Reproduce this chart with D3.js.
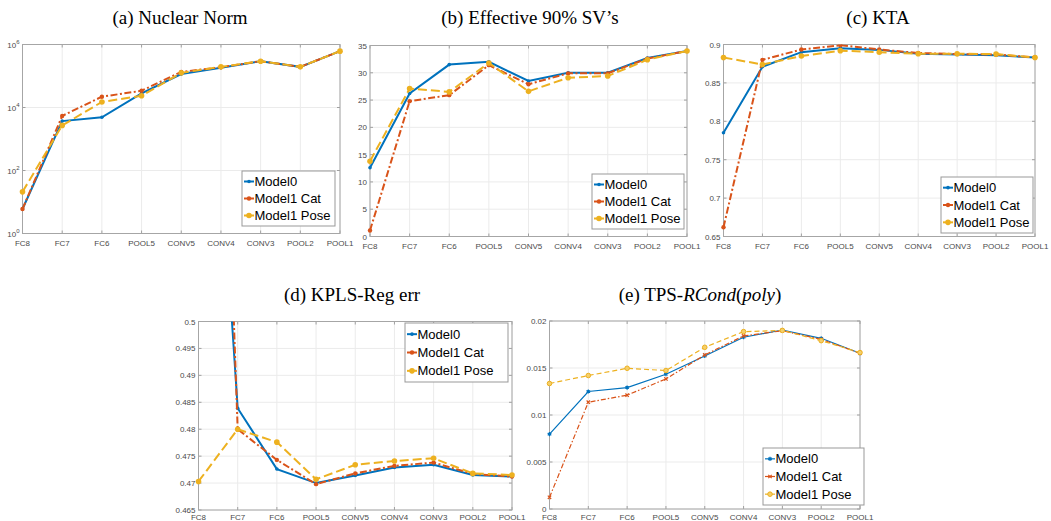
<!DOCTYPE html>
<html>
<head>
  <meta charset="utf-8">
  <script src="https://d3js.org/d3.v7.min.js"></script>
  <style>
    body { margin: 0; background: #fff; }
    .tick-label { font-family: "Liberation Sans", Arial, sans-serif; font-size: 8px; fill: #4a4a4a; }
    .title { font-family: "Liberation Serif", "Times New Roman", serif; font-size: 19px; fill: #000; }
    .legend-text { font-family: "Liberation Sans", Arial, sans-serif; font-size: 13px; fill: #000; }
  </style>
</head>
<body>
<script type="text/javascript">
  "use strict";

  // layer names along the x axis
  var categories = ["FC8", "FC7", "FC6", "POOL5", "CONV5", "CONV4", "CONV3", "POOL2", "POOL1"];
  var seriesNames = ["Model0", "Model1 Cat", "Model1 Pose"];

  // (a) Nuclear Norm (log scale)
  var nuclearModel0 = [6, 3700, 4900, 28000, 115000, 182000, 295000, 195000, 615000];
  var nuclearCat    = [6, 5400, 22000, 34000, 135000, 190000, 295000, 195000, 615000];
  var nuclearPose   = [21, 2700, 15000, 23500, 126000, 195000, 295000, 195000, 615000];
  var nuclearTicks  = [1, 100, 10000, 1000000];

  // (b) Effective 90% SV's
  var effModel0 = [12.6, 26.2, 31.5, 32.0, 28.5, 30.0, 30.0, 32.7, 34.0];
  var effCat    = [1.1, 24.8, 25.9, 31.4, 27.9, 29.9, 29.9, 32.6, 34.0];
  var effPose   = [13.8, 27.1, 26.5, 31.8, 26.6, 29.1, 29.4, 32.4, 34.0];
  var effTicks  = [0, 5, 10, 15, 20, 25, 30, 35];

  // (c) KTA
  var ktaModel0 = [0.785, 0.871, 0.890, 0.895, 0.893, 0.888, 0.887, 0.886, 0.883];
  var ktaCat    = [0.662, 0.880, 0.8935, 0.899, 0.8935, 0.889, 0.8875, 0.887, 0.883];
  var ktaPose   = [0.883, 0.874, 0.885, 0.892, 0.890, 0.888, 0.888, 0.8875, 0.883];
  var ktaTicks  = [0.65, 0.7, 0.75, 0.8, 0.85, 0.9];

  // (d) KPLS-Reg err (FC8 of first two series is off the top)
  var kplsModel0 = [0.594, 0.4839, 0.4726, 0.4700, 0.4714, 0.4729, 0.4734, 0.4715, 0.4712];
  var kplsCat    = [0.685, 0.4800, 0.4743, 0.4698, 0.4718, 0.4732, 0.4738, 0.4717, 0.4712];
  var kplsPose   = [0.4703, 0.4800, 0.4776, 0.4707, 0.4734, 0.4741, 0.4746, 0.4718, 0.4715];
  var kplsTicks  = [0.465, 0.47, 0.475, 0.48, 0.485, 0.49, 0.495, 0.5];

  // (e) TPS-RCond(poly)
  var tpsModel0 = [0.00796, 0.0125, 0.01292, 0.01434, 0.01628, 0.01827, 0.01904, 0.01816, 0.01657];
  var tpsCat    = [0.00124, 0.01136, 0.01211, 0.01384, 0.01639, 0.01841, 0.01897, 0.01805, 0.01657];
  var tpsPose   = [0.01335, 0.0142, 0.01497, 0.01473, 0.0172, 0.01887, 0.019, 0.01791, 0.01664];
  var tpsTicks  = [0, 0.005, 0.01, 0.015, 0.02];

  var colors = ["#0072BD", "#D95319", "#EDB120"];

  var panels = [
    { id: "a", title: [["(a) Nuclear Norm", false]], series: [nuclearModel0, nuclearCat, nuclearPose],
      log: true, domain: [1, 1000000], ticks: nuclearTicks, thin: false,
      box: { l: 22.5, r: 340, t: 44.5, b: 233.5 }, titleX: 180, titleY: 24, xlab: 12,
      legend: { x: 242, y: 171, w: 93, h: 55 } },
    { id: "b", title: [["(b) Effective 90% SV\u2019s", false]], series: [effModel0, effCat, effPose],
      log: false, domain: [0, 35], ticks: effTicks, thin: false,
      box: { l: 370, r: 687, t: 45.5, b: 236.5 }, titleX: 530, titleY: 24, xlab: 12,
      legend: { x: 592, y: 174, w: 92, h: 55 } },
    { id: "c", title: [["(c) KTA", false]], series: [ktaModel0, ktaCat, ktaPose],
      log: false, domain: [0.65, 0.9], ticks: ktaTicks, thin: false,
      box: { l: 723.5, r: 1035, t: 44.5, b: 236.5 }, titleX: 878, titleY: 24, xlab: 12,
      legend: { x: 941, y: 177, w: 92, h: 56 } },
    { id: "d", title: [["(d) KPLS-Reg err", false]], series: [kplsModel0, kplsCat, kplsPose],
      log: false, domain: [0.465, 0.5], ticks: kplsTicks, thin: false,
      box: { l: 198.5, r: 512, t: 321.5, b: 510 }, titleX: 352, titleY: 301, xlab: 10,
      legend: { x: 405, y: 323, w: 103, h: 59 } },
    { id: "e", title: [["(e) TPS-", false], ["RCond", true], ["(", false], ["poly", true], [")", false]],
      series: [tpsModel0, tpsCat, tpsPose],
      log: false, domain: [0, 0.02], ticks: tpsTicks, thin: true,
      box: { l: 549.5, r: 860, t: 321, b: 509 }, titleX: 700, titleY: 301, xlab: 10.5,
      legend: { x: 763, y: 448, w: 101, h: 57 } }
  ];

  var svg = d3.select("body")
    .append("svg")
      .attr("width", 1051)
      .attr("height", 521);

  function dashFor(i, thin) {
    if (i === 1) return thin ? "5,2,1.5,2" : "7,2.5,2,2.5";
    if (i === 2) return thin ? "5,3" : "9,4";
    return null;
  }

  function drawMarker(g, i, thin, x, y) {
    if (!thin) {
      g.append("circle")
        .attr("cx", x).attr("cy", y)
        .attr("r", [1.8, 2.2, 2.8][i])
        .attr("fill", colors[i]);
    } else if (i === 2) {
      g.append("circle")
        .attr("cx", x).attr("cy", y).attr("r", 2.3)
        .attr("fill", "#f5cf6a").attr("stroke", colors[i]).attr("stroke-width", 1);
    } else {
      g.append("path")
        .attr("transform", "translate(" + x + "," + y + ")")
        .attr("d", d3.symbol().type(i === 0 ? d3.symbolAsterisk : d3.symbolTimes).size(i === 0 ? 12 : 9)())
        .attr("fill", "none").attr("stroke", colors[i]).attr("stroke-width", 1.2);
    }
  }

  panels.forEach(function(p) {
    var box = p.box;
    var g = svg.append("g").attr("class", "panel-" + p.id);

    var x = d3.scalePoint().domain(categories).range([box.l, box.r]).padding(0);
    var y = (p.log ? d3.scaleLog() : d3.scaleLinear()).domain(p.domain).range([box.b, box.t]);

    // grid
    g.selectAll(".vgrid").data(categories).enter().append("line")
      .attr("x1", function(d) { return x(d); }).attr("x2", function(d) { return x(d); })
      .attr("y1", box.t).attr("y2", box.b)
      .attr("stroke", "#ebebeb").attr("stroke-width", 1);
    g.selectAll(".hgrid").data(p.ticks).enter().append("line")
      .attr("x1", box.l).attr("x2", box.r)
      .attr("y1", function(d) { return y(d); }).attr("y2", function(d) { return y(d); })
      .attr("stroke", "#ebebeb").attr("stroke-width", 1);

    // tick marks (inside, both sides)
    var tl = 3;
    categories.forEach(function(c) {
      g.append("line").attr("x1", x(c)).attr("x2", x(c)).attr("y1", box.b).attr("y2", box.b - tl)
        .attr("stroke", "#a0a0a0");
      g.append("line").attr("x1", x(c)).attr("x2", x(c)).attr("y1", box.t).attr("y2", box.t + tl)
        .attr("stroke", "#a0a0a0");
    });
    p.ticks.forEach(function(t) {
      g.append("line").attr("x1", box.l).attr("x2", box.l + tl).attr("y1", y(t)).attr("y2", y(t))
        .attr("stroke", "#a0a0a0");
      g.append("line").attr("x1", box.r).attr("x2", box.r - tl).attr("y1", y(t)).attr("y2", y(t))
        .attr("stroke", "#a0a0a0");
    });

    // axis box
    g.append("rect")
      .attr("x", box.l).attr("y", box.t)
      .attr("width", box.r - box.l).attr("height", box.b - box.t)
      .attr("fill", "none").attr("stroke", "#a6a6a6").attr("stroke-width", 1);

    // x labels
    g.selectAll(".xl").data(categories).enter().append("text")
      .attr("class", "tick-label")
      .attr("x", function(d) { return x(d); })
      .attr("y", box.b + p.xlab)
      .attr("text-anchor", "middle")
      .text(function(d) { return d; });

    // y labels
    var yl = g.selectAll(".yl").data(p.ticks).enter().append("text")
      .attr("class", "tick-label")
      .attr("x", box.l - 3)
      .attr("y", function(d) { return y(d) + 3; })
      .attr("text-anchor", "end");
    if (p.log) {
      yl.each(function(d) {
        var t = d3.select(this);
        t.append("tspan").text("10");
        t.append("tspan").attr("dy", -4).attr("font-size", "6px").text(Math.round(Math.log10(d)));
      });
    } else {
      yl.text(function(d) { return String(+d.toFixed(4)); });
    }

    // title
    var title = g.append("text").attr("class", "title")
      .attr("x", p.titleX).attr("y", p.titleY).attr("text-anchor", "middle");
    p.title.forEach(function(part) {
      title.append("tspan").attr("font-style", part[1] ? "italic" : "normal").text(part[0]);
    });

    // clip for lines
    g.append("clipPath").attr("id", "clip-" + p.id)
      .append("rect")
        .attr("x", box.l - 5).attr("y", box.t)
        .attr("width", box.r - box.l + 10).attr("height", box.b - box.t + 5);
    var plot = g.append("g").attr("clip-path", "url(#clip-" + p.id + ")");

    var line = d3.line()
      .x(function(d, i) { return x(categories[i]); })
      .y(function(d) { return y(d); });

    p.series.forEach(function(vals, i) {
      plot.append("path")
        .datum(vals)
        .attr("d", line)
        .attr("fill", "none")
        .attr("stroke", colors[i])
        .attr("stroke-width", p.thin ? 1.2 : 2)
        .attr("stroke-dasharray", dashFor(i, p.thin));
      vals.forEach(function(v, k) {
        drawMarker(plot, i, p.thin, x(categories[k]), y(v));
      });
    });

    // legend
    var lg = p.legend;
    var leg = g.append("g").attr("class", "legend");
    leg.append("rect")
      .attr("x", lg.x).attr("y", lg.y).attr("width", lg.w).attr("height", lg.h)
      .attr("fill", "#fff").attr("stroke", "#999").attr("stroke-width", 1);
    var rowH = (lg.h - 4) / 3;
    seriesNames.forEach(function(name, i) {
      var ry = lg.y + 2 + rowH * (i + 0.5);
      leg.append("line")
        .attr("x1", lg.x + 2).attr("x2", lg.x + 12)
        .attr("y1", ry).attr("y2", ry)
        .attr("stroke", colors[i])
        .attr("stroke-width", p.thin ? 1.2 : 2);
      drawMarker(leg, i, p.thin, lg.x + 7, ry);
      leg.append("text")
        .attr("class", "legend-text")
        .attr("x", lg.x + 12.5)
        .attr("y", ry + 4.5)
        .text(name);
    });
  });
</script>
</body>
</html>
